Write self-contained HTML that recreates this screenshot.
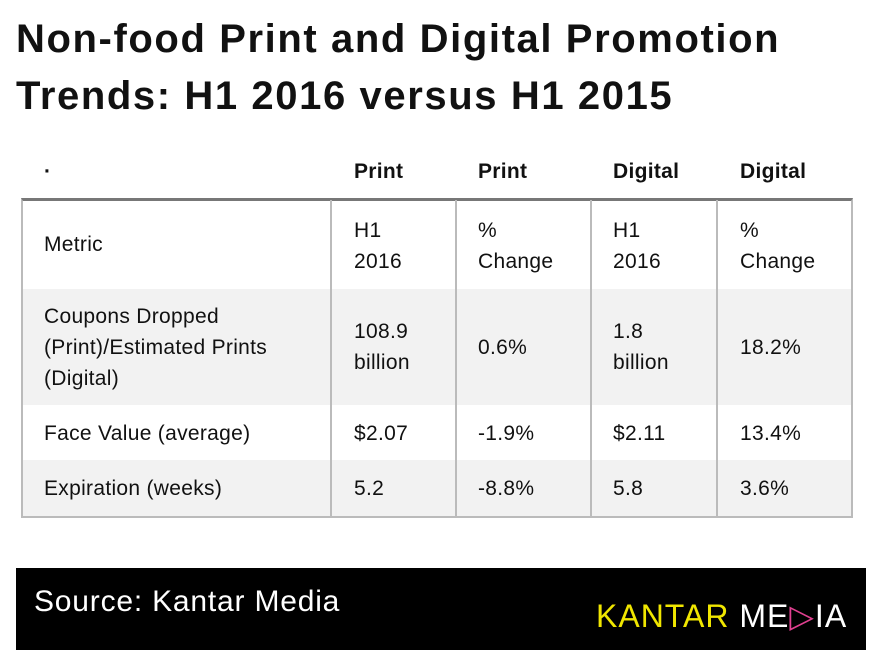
<!DOCTYPE html>
<html><head><meta charset="utf-8"><style>
body{margin:0;width:882px;height:664px;background:#fff;position:relative;font-family:"Liberation Sans",sans-serif;color:#111;overflow:hidden}
.t{position:absolute;left:16px;font-weight:bold;font-size:40px;line-height:57px;letter-spacing:1.6px;white-space:nowrap}
.a{position:absolute;font-size:21px;line-height:31px;white-space:nowrap;letter-spacing:0.3px}
.h{font-weight:bold}
.vl{position:absolute;top:200px;height:316px;width:2px;background:#bbb}
.row{position:absolute;left:21px;width:832px}
</style></head><body>
<div class="t" style="top:11px">Non-food Print and Digital Promotion</div>
<div class="t" style="top:68px">Trends: H1 2016 versus H1 2015</div>
<div>
<div class="row" style="top:289px;height:116px;background:#f2f2f2"></div>
<div class="row" style="top:460px;height:56px;background:#f2f2f2"></div>
<div class="row" style="top:198px;border:2px solid #bbb;border-top:3px solid #777;box-sizing:border-box;height:320px"></div>
<div class="vl" style="left:330px"></div>
<div class="vl" style="left:455px"></div>
<div class="vl" style="left:590px"></div>
<div class="vl" style="left:716px"></div>
<div class="a h" style="left:44px;top:156px">·</div>
<div class="a h" style="left:354px;top:156px">Print</div>
<div class="a h" style="left:478px;top:156px">Print</div>
<div class="a h" style="left:613px;top:156px">Digital</div>
<div class="a h" style="left:740px;top:156px">Digital</div>

<div class="a" style="left:44px;top:229px">Metric</div>
<div class="a" style="left:354px;top:215px">H1<br>2016</div>
<div class="a" style="left:478px;top:215px">%<br>Change</div>
<div class="a" style="left:613px;top:215px">H1<br>2016</div>
<div class="a" style="left:740px;top:215px">%<br>Change</div>

<div class="a" style="left:44px;top:301px">Coupons Dropped<br>(Print)/Estimated Prints<br>(Digital)</div>
<div class="a" style="left:354px;top:316px">108.9<br>billion</div>
<div class="a" style="left:478px;top:332px">0.6%</div>
<div class="a" style="left:613px;top:316px">1.8<br>billion</div>
<div class="a" style="left:740px;top:332px">18.2%</div>

<div class="a" style="left:44px;top:418px">Face Value (average)</div>
<div class="a" style="left:354px;top:418px">$2.07</div>
<div class="a" style="left:478px;top:418px">-1.9%</div>
<div class="a" style="left:613px;top:418px">$2.11</div>
<div class="a" style="left:740px;top:418px">13.4%</div>

<div class="a" style="left:44px;top:473px">Expiration (weeks)</div>
<div class="a" style="left:354px;top:473px">5.2</div>
<div class="a" style="left:478px;top:473px">-8.8%</div>
<div class="a" style="left:613px;top:473px">5.8</div>
<div class="a" style="left:740px;top:473px">3.6%</div>
</div>
<div style="position:absolute;left:16px;top:568px;width:850px;height:82px;background:#000">
<div style="position:absolute;left:18px;top:17px;color:#fff;font-size:30px;letter-spacing:0.8px;white-space:nowrap">Source: Kantar Media</div>
<div style="position:absolute;left:580px;top:29px;font-size:32px;letter-spacing:1px;white-space:nowrap"><span style="color:#f0e600">KANTAR</span> <span style="color:#fff">ME<span style="color:#e04090">▷</span>IA</span></div>
</div>
</body></html>
